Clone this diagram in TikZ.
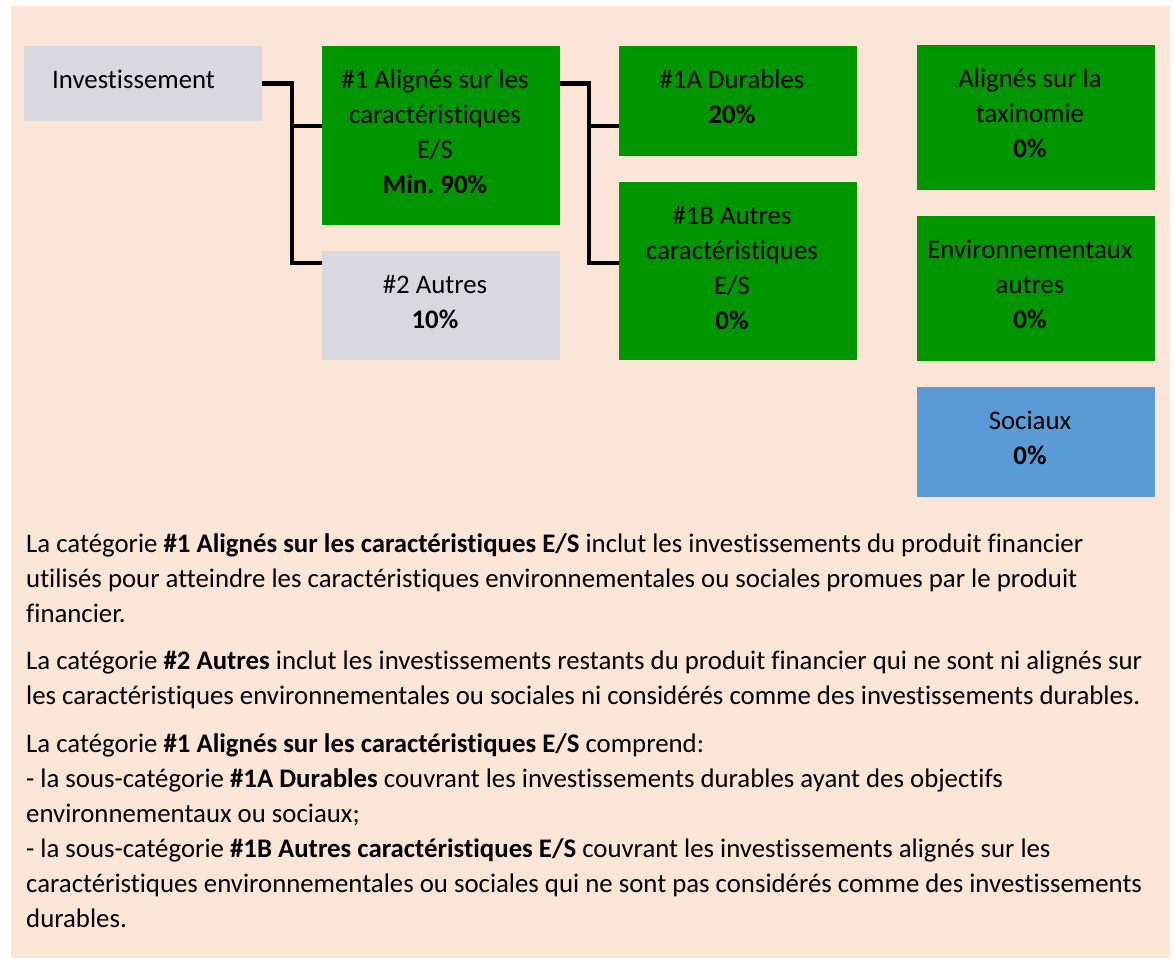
\documentclass[tikz,border=0pt]{standalone}
\usepackage{fontspec}
\setmainfont{Carlito}[Ligatures=NoCommon]
\usetikzlibrary{positioning}
\definecolor{peach}{HTML}{FBE5D6}
\definecolor{boxgray}{HTML}{DAD8DF}
\definecolor{boxgreen}{HTML}{009600}
\definecolor{boxblue}{HTML}{5B9BD5}
\frenchspacing
\tikzset{
    block/.style={
        anchor=north west,
        inner sep=0pt,
        outer sep=0pt,
        minimum width=238pt
    },
    caption/.style={
        anchor=north,
        inner sep=0pt,
        align=center,
        xshift=-6pt,
        yshift=-18pt
    },
    conn/.style={
        line width=4.5pt
    }
}

\begin{document}
\begin{tikzpicture}[x=1pt,y=-1pt,font=\fontsize{26.8}{35}\selectfont]
  \useasboundingbox (0,0) rectangle (1174,958);
  \fill[peach] (11,6) rectangle (1170,958);

  % first column
  \node[block,fill=boxgray,minimum height=75pt] at (24,46) (inv) {};
  \node[anchor=north west,inner sep=0pt] at (52,63.5) (invt) {\strut Investissement};

  % second column
  \node[block,fill=boxgreen,minimum height=179pt] at (322,46) (es) {};
  \node[caption] at (es.north) (est) {\strut\#1 Alignés sur les\\caractéristiques\\E/S\\\textbf{Min. 90\%}};
  \node[block,fill=boxgray,minimum height=109pt] at (322,251) (two) {};
  \node[caption] at (two.north) (twot) {\strut\#2 Autres\\\textbf{10\%}};

  % third column
  \node[block,fill=boxgreen,minimum height=110pt] at (619,46) (dur) {};
  \node[caption] at (dur.north) (durt) {\strut\#1A Durables\\\textbf{20\%}};
  \node[block,fill=boxgreen,minimum height=178pt] at (619,182) (oth) {};
  \node[caption] at (oth.north) (otht) {\strut\#1B Autres\\caractéristiques\\E/S\\\textbf{0\%}};

  % fourth column
  \node[block,fill=boxgreen,minimum height=145pt] at (917,45) (tax) {};
  \node[caption] at (tax.north) (taxt) {\strut Alignés sur la\\taxinomie\\\textbf{0\%}};
  \node[block,fill=boxgreen,minimum height=145pt] at (917,216) (env) {};
  \node[caption] at (env.north) (envt) {\strut Environnementaux\\autres\\\textbf{0\%}};
  \node[block,fill=boxblue,minimum height=110pt] at (917,387) (soc) {};
  \node[caption] at (soc.north) (soct) {\strut Sociaux\\\textbf{0\%}};

  % connectors
  \coordinate (a1) at (292,126);
  \coordinate (a2) at (292,263);
  \draw[conn] (inv.east) -| (a2) -- (a2-|two.west);
  \draw[conn] (a1) -- (a1-|es.west);

  \coordinate (b0) at (es.east|-inv.east);
  \coordinate (b1) at (589,126);
  \coordinate (b2) at (589,263);
  \draw[conn] (b0) -| (b2) -- (b2-|oth.west);
  \draw[conn] (b1) -- (b1-|dur.west);

  % explanation
  \node[anchor=north west,inner sep=0pt,align=left] at (26,528) (expl) {\strut La catégorie \textbf{\#1 Alignés sur les caractéristiques E/S} inclut les investissements du produit financier\\
  utilisés pour atteindre les caractéristiques environnementales ou sociales promues par le produit\\
  financier.\\[12pt]
  La catégorie \textbf{\#2 Autres} inclut les investissements restants du produit financier qui ne sont ni alignés sur\\
  les caractéristiques environnementales ou sociales ni considérés comme des investissements durables.\\[13pt]
  La catégorie \textbf{\#1 Alignés sur les caractéristiques E/S} comprend:\\
  - la sous-catégorie \textbf{\#1A Durables} couvrant les investissements durables ayant des objectifs\\
  environnementaux ou sociaux;\\
  - la sous-catégorie \textbf{\#1B Autres caractéristiques E/S} couvrant les investissements alignés sur les\\
  caractéristiques environnementales ou sociales qui ne sont pas considérés comme des investissements\\
  durables.};
\end{tikzpicture}
\end{document}
